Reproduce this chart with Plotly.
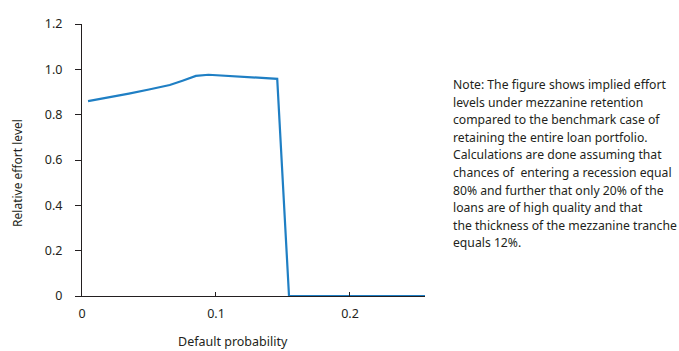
import plotly.graph_objects as go

# Implied relative effort under mezzanine retention vs. default probability
default_prob = [0.0045, 0.02, 0.035, 0.05, 0.0655, 0.075, 0.085, 0.0944, 0.12, 0.1457, 0.1545, 0.256]
effort = [0.860, 0.876, 0.893, 0.911, 0.931, 0.950, 0.971, 0.976, 0.967, 0.958, 0.0, 0.0]

x_ticks = [0, 0.1, 0.2]
x_tick_labels = ["0", "0.1", "0.2"]
y_ticks = [0, 0.2, 0.4, 0.6, 0.8, 1.0, 1.2]
y_tick_labels = ["0", "0.2", "0.4", "0.6", "0.8", "1.0", "1.2"]

note_lines = [
    "Note: The figure shows implied effort",
    "levels under mezzanine retention",
    "compared to the benchmark case of",
    "retaining the entire loan portfolio.",
    "Calculations are done assuming that",
    "chances of  entering a recession equal",
    "80% and further that only 20% of the",
    "loans are of high quality and that",
    "the thickness of the mezzanine tranche",
    "equals 12%.",
]

FONT = "Noto Sans"
TEXT = "#231f20"

fig = go.Figure()
fig.add_trace(go.Scatter(
    x=default_prob, y=effort, mode="lines",
    line=dict(color="#1f7fc4", width=2.2),
    cliponaxis=False, hoverinfo="skip", showlegend=False,
))

fig.update_layout(
    width=679, height=351,
    margin=dict(l=82, r=254, t=24, b=55),
    paper_bgcolor="white", plot_bgcolor="white",
    font=dict(family=FONT, size=12, color=TEXT),
    xaxis=dict(
        range=[0, 0.256], tickvals=x_ticks, ticktext=x_tick_labels,
        ticks="inside", ticklen=4, tickcolor=TEXT, tickwidth=1,
        ticklabelstandoff=6,
        showline=True, linecolor=TEXT, linewidth=1,
        showgrid=False, zeroline=False, fixedrange=True,
        tickfont=dict(family=FONT, size=12.5, color=TEXT),
    ),
    yaxis=dict(
        range=[0, 1.2], tickvals=y_ticks, ticktext=y_tick_labels,
        ticks="outside", ticklen=6, tickcolor=TEXT, tickwidth=1,
        ticklabelstandoff=10,
        showline=True, linecolor=TEXT, linewidth=1,
        showgrid=False, zeroline=False, fixedrange=True,
        tickfont=dict(family=FONT, size=12.5, color=TEXT),
    ),
)

# axis titles
fig.add_annotation(
    text="Default probability", xref="paper", yref="paper",
    x=0.44, y=-0.205, xanchor="center", yanchor="bottom", showarrow=False,
    font=dict(family=FONT, size=12.5, color=TEXT),
)
fig.add_annotation(
    text="Relative effort level", xref="paper", yref="paper",
    x=-0.19, y=0.452, xanchor="center", yanchor="middle", textangle=-90,
    showarrow=False, font=dict(family=FONT, size=12, color=TEXT),
)

# explanatory note to the right of the plot, one line per annotation
line_step = 17.5 / 271.4
for i, line in enumerate(note_lines):
    fig.add_annotation(
        text=line, xref="paper", yref="paper",
        x=1.075, y=(295.7 - 85) / 271.4 - i * line_step,
        xanchor="left", yanchor="middle", align="left", showarrow=False,
        font=dict(family=FONT, size=12.2, color=TEXT),
    )

fig.write_html("out.html", config={"displayModeBar": False})
